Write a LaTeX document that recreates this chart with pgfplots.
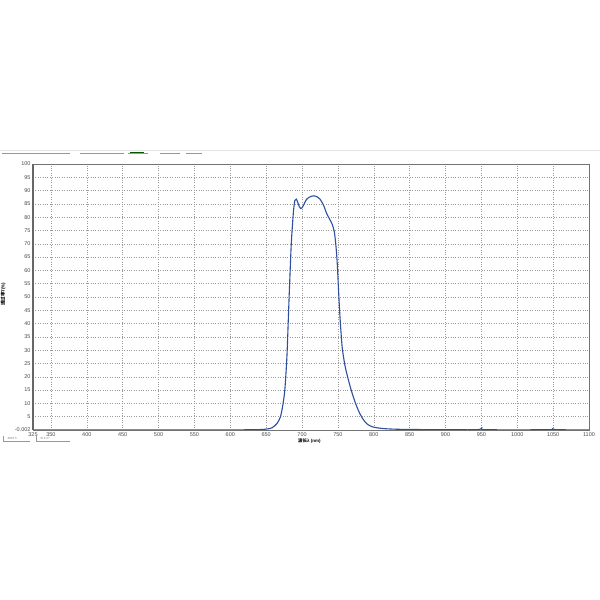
\documentclass[border=0pt]{standalone}
\usepackage{fontspec}
\setmainfont{Liberation Sans}
\newfontfamily\cjk{Noto Sans CJK SC}
\usepackage{pgfplots}
\pgfplotsset{compat=1.18}
\definecolor{curve}{HTML}{2E4F9E}
\definecolor{gridc}{HTML}{9A9A9A}
\begin{document}
\begin{tikzpicture}[x=1pt,y=1pt]
\useasboundingbox[fill=white] (0pt,0pt) rectangle (600pt,600pt);
% toolbar strip
\draw[black!10, line width=1pt] (0pt,449pt) -- (600pt,449pt);
\foreach \a/\b in {2/70,80/124,128/148,160/180,186/202}{\draw[black!40,line width=0.4pt] (\a pt,447pt) -- (\b pt,447pt);}
\draw[green!35!black,line width=1.5pt] (130pt,447.5pt) -- (144pt,447.5pt);
\begin{axis}[
  at={(33pt,170pt)}, anchor=south west,
  width=556pt, height=266pt, scale only axis,
  xmin=325, xmax=1100, ymin=-0.002, ymax=100,
  xtick={325,350,400,450,500,550,600,650,700,750,800,850,900,950,1000,1050,1100},
  ytick={-0.002,5,10,15,20,25,30,35,40,45,50,55,60,65,70,75,80,85,90,95,100},
  yticklabels={-0.002,5,10,15,20,25,30,35,40,45,50,55,60,65,70,75,80,85,90,95,100},
  xticklabels={325,350,400,450,500,550,600,650,700,750,800,850,900,950,1000,1050,1100},
  tick label style={font=\fontsize{5.5}{6}\selectfont, text=black!70},
  /pgf/number format/assume math mode=true,
  xticklabel style={yshift=1pt},
  yticklabel style={xshift=1pt},
  major tick length=0pt,
  grid=major,
  major grid style={gridc, dotted, line width=0.5pt},
  axis line style={black!55, line width=0.6pt},
  clip=true,
  xlabel={{\cjk\bfseries 波长}λ (nm)},
  xlabel style={font=\fontsize{4.5}{5}\selectfont\bfseries, at={(axis description cs:0.497,0)}, anchor=north, yshift=-5pt},
  ylabel={{\cjk\bfseries 透过率}T(\%)},
  ylabel style={font=\fontsize{4.5}{5}\selectfont\bfseries, at={(axis description cs:-0.043,0.51)}, anchor=south},
]
\addplot[curve, line width=1.1pt, smooth, tension=0.4] coordinates {
(325,0) (400,0.05) (500,0.05) (600,0.05) (630,0.1) (645,0.2) (652,0.4) (658,0.8) (662,1.6)
(666,2.8) (670,5) (673,9) (676,15) (679,28) (682,50) (685,70) (688,82) (690,86.3)
(692,86.8) (694,85.6) (696,84.1) (698,83.3) (700,83.5) (703,85) (706,86.6) (710,87.5)
(715,88) (720,87.8) (725,86.8) (730,84.5) (734,81.6) (738,79.5) (742,77.4) (745,74.5)
(747,70) (749,63) (751,52) (753,42) (756,31) (760,24) (764,19.5) (768,15.5) (772,12)
(776,9) (780,6.5) (784,4.5) (788,3) (792,2) (798,1.2) (805,0.8) (815,0.5) (830,0.3)
(850,0.2) (900,0.1) (944,0.1) (950,0.6) (956,0.1) (1044,0.1) (1050,0.4) (1056,0.1) (1100,0.05)
};
\end{axis}
\draw[black!60, line width=1.6pt] (33pt,170pt) -- (33pt,436pt);
% small status boxes under the chart
\draw[black!40, line width=0.4pt] (3pt,164pt) -- (3pt,159pt) -- (30pt,159pt);
\draw[black!40, line width=0.4pt] (36pt,164pt) -- (36pt,159pt) -- (70pt,159pt);
\node[font=\fontsize{3}{3}\selectfont, text=black!50, anchor=west] at (4pt,162pt) {4002.5};
\node[font=\fontsize{3}{3}\selectfont, text=black!50, anchor=west] at (37pt,162pt) {6t 4.27};
\end{tikzpicture}
\end{document}
